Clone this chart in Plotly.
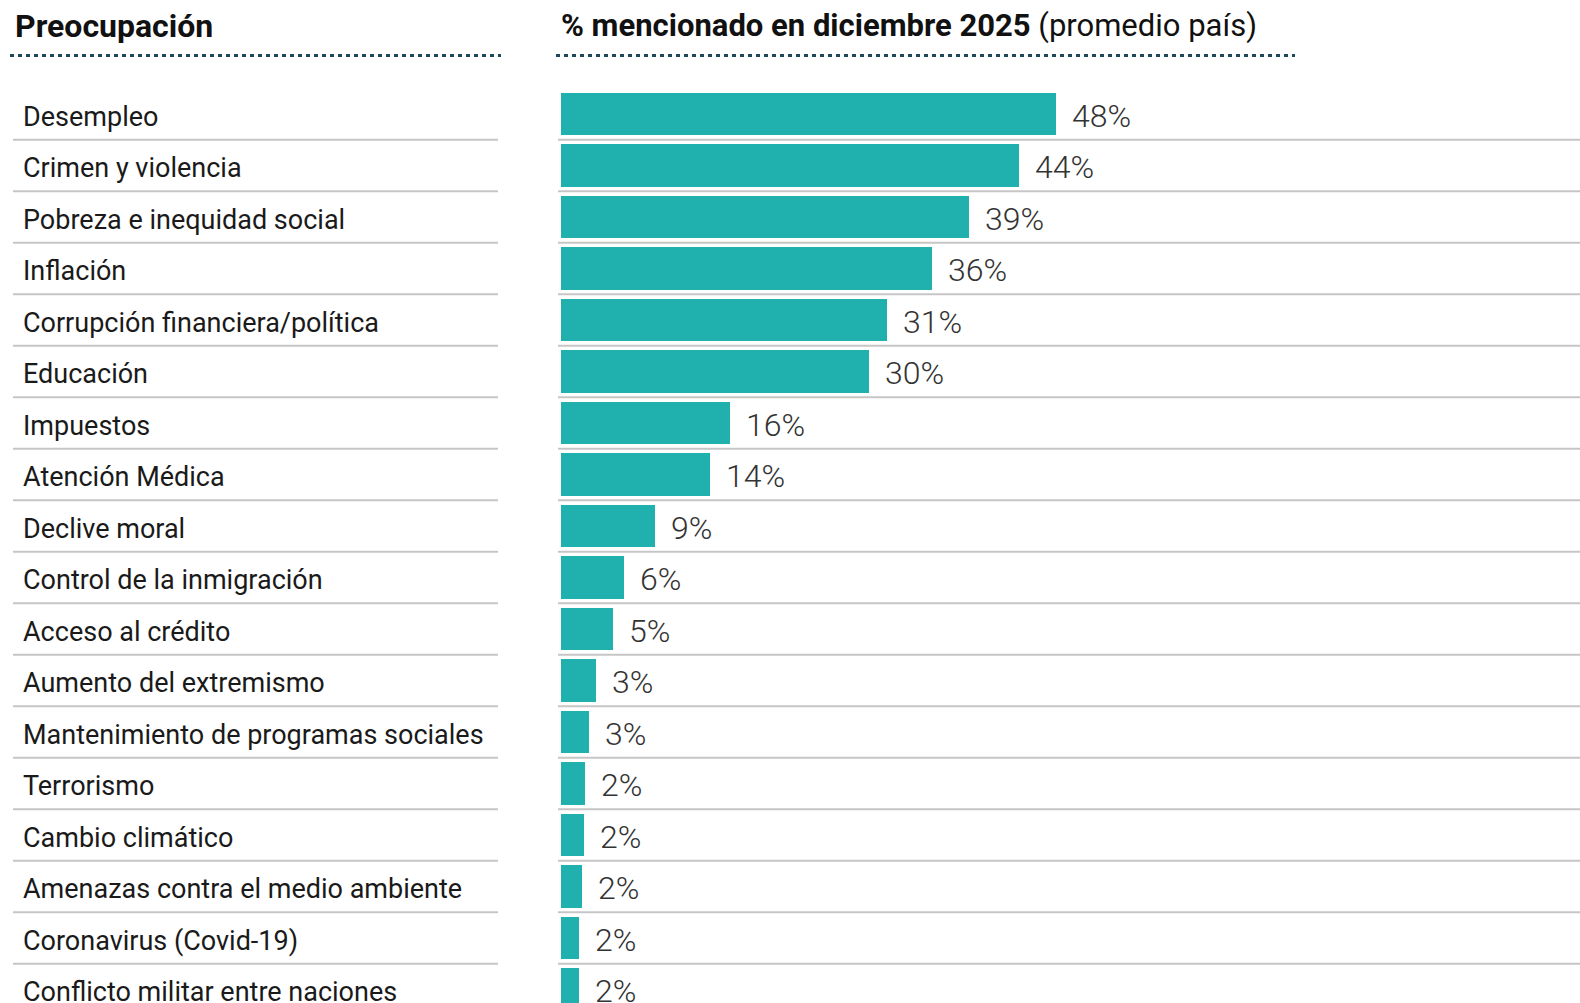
import plotly.graph_objects as go

categories = [
    "Desempleo", "Crimen y violencia", "Pobreza e inequidad social", "Inflación",
    "Corrupción financiera/política", "Educación", "Impuestos", "Atención Médica",
    "Declive moral", "Control de la inmigración", "Acceso al crédito",
    "Aumento del extremismo", "Mantenimiento de programas sociales", "Terrorismo",
    "Cambio climático", "Amenazas contra el medio ambiente", "Coronavirus (Covid-19)",
    "Conflicto militar entre naciones",
]
values = [47.7, 44.1, 39.3, 35.7, 31.4, 29.7, 16.3, 14.4, 9.1, 6.1, 5.0, 3.4, 2.7, 2.3, 2.2, 2.0, 1.7, 1.7]
value_labels = ["48%", "44%", "39%", "36%", "31%", "30%", "16%", "14%", "9%", "6%", "5%",
                "3%", "3%", "2%", "2%", "2%", "2%", "2%"]

W, H = 1580, 1003
row0, pitch = 113.9, 51.5
bar_x0 = 561
px_per_pct = 10.38

ypos = list(range(len(categories)))
y_top = (0 - row0) / pitch
y_bot = (H - row0) / pitch
x_max = (W - bar_x0) / px_per_pct

BAR = "#20B0AD"
DOT = "#1d4b5b"
SEP = "#c6c6c6"

fig = go.Figure()
fig.add_trace(go.Bar(
    x=values, y=ypos, orientation="h", width=0.82,
    marker=dict(color=BAR, line=dict(width=0)),
    hoverinfo="skip",
))

shapes = []
annotations = []
for i, (cat, v, lab) in enumerate(zip(categories, values, value_labels)):
    yb = i + 0.5
    shapes.append(dict(type="line", xref="paper", yref="y", x0=13 / W, x1=498 / W,
                       y0=yb, y1=yb, line=dict(color=SEP, width=2), layer="below"))
    shapes.append(dict(type="line", xref="paper", yref="y", x0=558 / W, x1=1.01, y0=yb, y1=yb,
                       line=dict(color=SEP, width=2), layer="below"))
    annotations.append(dict(xref="paper", yref="y", x=21 / W, y=i, text=cat, showarrow=False,
                            xanchor="left", yanchor="middle", yshift=-3,
                            font=dict(family="Roboto", size=27, color="#1a1a1a")))
    annotations.append(dict(xref="x", yref="y", x=v, y=i, text=lab, showarrow=False,
                            xanchor="left", yanchor="middle", xshift=14, yshift=-2,
                            font=dict(family="Roboto", size=32, weight=300, color="#333333")))

# header dotted rules
ydot = 1 - 55.5 / H
shapes.append(dict(type="line", xref="paper", yref="paper", x0=10 / W, x1=501 / W,
                   y0=ydot, y1=ydot, line=dict(color=DOT, width=3, dash="4px,4px")))
shapes.append(dict(type="line", xref="paper", yref="paper", x0=556 / W, x1=1295 / W,
                   y0=ydot, y1=ydot, line=dict(color=DOT, width=3, dash="4px,4px")))

ytitle = 1 - 26 / H
annotations.append(dict(xref="paper", yref="paper", x=13 / W, y=ytitle, text="<b>Preocupación</b>",
                        showarrow=False, xanchor="left", yanchor="middle",
                        font=dict(family="Roboto", size=32, color="#111111")))
annotations.append(dict(xref="paper", yref="paper", x=559 / W, y=ytitle,
                        text="<b>% mencionado en diciembre 2025</b> (promedio país)",
                        showarrow=False, xanchor="left", yanchor="middle",
                        font=dict(family="Roboto", size=31, color="#111111")))

fig.update_layout(
    width=W, height=H,
    margin=dict(l=0, r=0, t=0, b=0),
    paper_bgcolor="white", plot_bgcolor="white",
    showlegend=False,
    xaxis=dict(domain=[bar_x0 / W, 1], range=[0, x_max], visible=False, fixedrange=True),
    yaxis=dict(domain=[0, 1], range=[y_bot, y_top], visible=False, fixedrange=True),
    shapes=shapes,
    annotations=annotations,
    bargap=0,
)

fig.write_html(
    "out.html",
    config={"displayModeBar": False},
    post_script="document.body.style.margin='0';document.body.style.overflow='hidden';",
)
